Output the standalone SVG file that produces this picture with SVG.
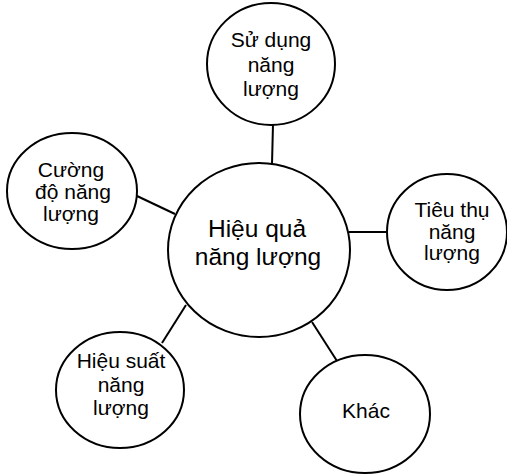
<svg xmlns="http://www.w3.org/2000/svg" width="507" height="475" viewBox="0 0 507 475">
<style>
.n{fill:#fff;stroke:#000;stroke-width:2}
.c line{stroke:#000;stroke-width:2}
text{font-family:"Liberation Sans",Arial,sans-serif;font-size:21px;fill:#000;text-anchor:middle}
.big{font-size:24.5px}
</style>
<rect width="507" height="475" fill="#fff"/>
<g class="c" id="connectors">
<line x1="273" y1="124" x2="272" y2="164"/>
<line x1="137" y1="196" x2="175" y2="214"/>
<line x1="349" y1="232" x2="387" y2="232"/>
<line x1="186" y1="305" x2="162" y2="343"/>
<line x1="312" y1="322" x2="337" y2="361"/>
</g>
<g id="center">
<ellipse class="n" cx="259" cy="250" rx="91" ry="87"/>
<text class="big" x="257" y="237">Hiệu quả</text>
<text class="big" x="258" y="265">năng lượng</text>
</g>
<g id="top">
<ellipse class="n" cx="271" cy="64" rx="64" ry="61"/>
<text x="271" y="47">Sử dụng</text>
<text x="271" y="72">năng</text>
<text x="271" y="96">lượng</text>
</g>
<g id="left">
<ellipse class="n" cx="72" cy="191" rx="65" ry="58"/>
<text x="71" y="177">Cường</text>
<text x="73" y="199">độ năng</text>
<text x="71" y="221">lượng</text>
</g>
<g id="right">
<ellipse class="n" cx="447" cy="232" rx="60" ry="58"/>
<text x="452" y="217">Tiêu thụ</text>
<text x="452" y="239">năng</text>
<text x="452" y="260">lượng</text>
</g>
<g id="bottomleft">
<ellipse class="n" cx="120" cy="390" rx="64" ry="58"/>
<text x="121" y="368">Hiệu suất</text>
<text x="121" y="392">năng</text>
<text x="121" y="415">lượng</text>
</g>
<g id="bottomright">
<ellipse class="n" cx="365" cy="414" rx="65" ry="59"/>
<text x="366" y="418">Khác</text>
</g>
</svg>
